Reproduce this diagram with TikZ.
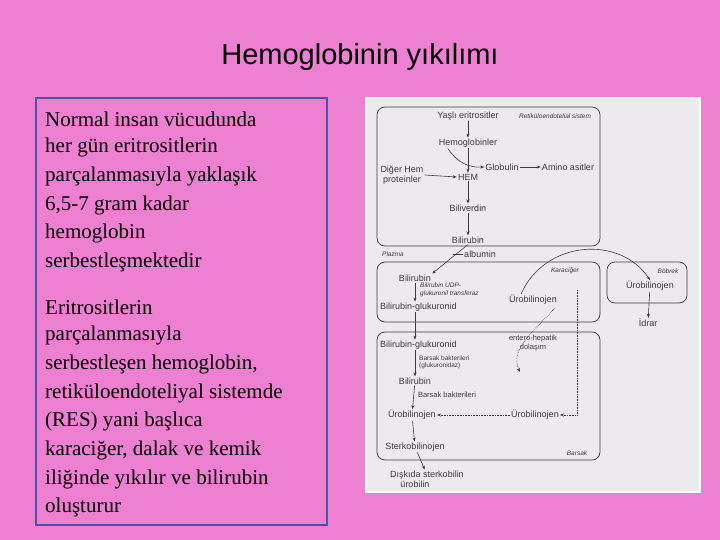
\documentclass[tikz,border=0pt]{standalone}
\usepackage{fontspec}
\setmainfont{Liberation Serif}
\newfontfamily\hsans{Liberation Sans}
\usetikzlibrary{arrows.meta}
\definecolor{bgpink}{RGB}{238,128,210}
\definecolor{boxblue}{RGB}{80,80,170}
\definecolor{panel}{RGB}{236,234,238}
\definecolor{ink}{RGB}{60,60,60}
\tikzset{
  lt/.style={anchor=west,inner sep=0pt,font=\fontsize{21}{24}\selectfont},
  dt/.style={inner sep=1pt,text=ink,font=\hsans\fontsize{9}{10}\selectfont},
  di/.style={dt,font=\hsans\itshape\fontsize{6.5}{7.5}\selectfont},
  frame/.style={draw=ink,rounded corners=8pt,line width=0.7pt},
  ar/.style={draw=ink,line width=0.6pt,-{Stealth[length=4pt]}},
  dar/.style={ar,densely dotted},
}
\begin{document}
\begin{tikzpicture}[x=1pt,y=-1pt]
\fill[bgpink] (0,0) rectangle (720,540);
\useasboundingbox (0,0) rectangle (720,540);
\node[font=\hsans\fontsize{29}{32}\selectfont] (title) at (360,57) {Hemoglobinin yıkılımı};
\draw[boxblue,line width=1.2pt] (36,98) rectangle (327,525);
\foreach \t [count=\i from 0] in {Normal insan vücudunda,her gün eritrositlerin,parçalanmasıyla yaklaşık,{6,5-7 gram kadar},hemoglobin,serbestleşmektedir}
  \node[lt] (p1l\i) at (45,119+28.7*\i) {\t};
\foreach \t [count=\i from 0] in {Eritrositlerin,parçalanmasıyla,{serbestleşen hemoglobin,},retiküloendoteliyal sistemde,(RES) yani başlıca,{karaciğer, dalak ve kemik},iliğinde yıkılır ve bilirubin,oluşturur}
  \node[lt] (p2l\i) at (45,307+28.7*\i) {\t};
% right panel
\fill[panel] (366,98) rectangle (700,492);
\draw[white,line width=1.5pt] (366,98) rectangle (700,492);
\draw[frame] (377,107) rectangle (600,246);
\draw[frame] (377,262) rectangle (600,322);
\draw[frame] (607,262) rectangle (687,303);
\draw[frame] (377,332) rectangle (600,460);
\node[dt] (yas) at (468,116) {Yaşlı eritrositler};
\node[di] (res) at (555,116) {Retiküloendotelial sistem};
\node[dt] (hgb) at (468,143) {Hemoglobinler};
\node[dt] (glo) at (502,167) {Globulin};
\node[dt] (ami) at (568,167) {Amino asitler};
\node[dt,align=center] (dig) at (402,175) {Diğer Hem\\proteinler};
\node[dt] (hem) at (468,177) {HEM};
\node[dt] (bv) at (468,208) {Biliverdin};
\node[dt] (br1) at (468,240) {Bilirubin};
\node[di] (pla) at (393,254) {Plazma};
\node[dt] (alb) at (480,254) {albumin};
\node[di] (kar) at (565,271) {Karaciğer};
\node[di] (bob) at (668,271) {Böbrek};
\node[dt] (ur1) at (650,286) {Ürobilinojen};
\node[dt] (idr) at (648,323) {İdrar};
\node[dt] (br2) at (415,278) {Bilirubin};
\node[di,align=left,anchor=west] (udp) at (419,290) {Bilirubin UDP-\\glukuronil transferaz};
\node[dt,anchor=west] (bg1) at (379,307) {Bilirubin-glukuronid};
\node[dt] (ur2) at (533,300) {Ürobilinojen};
\node[dt,anchor=west] (bg2) at (379,345) {Bilirubin-glukuronid};
\node[di,align=left,anchor=west,font=\hsans\fontsize{6.5}{7}\selectfont] (bb1) at (418,362) {Barsak bakterileri\\(glukuronidaz)};
\node[dt,align=center,font=\hsans\fontsize{7.5}{8.5}\selectfont] (ent) at (533,343) {entero-hepatik\\dolaşım};
\node[dt] (br3) at (415,381) {Bilirubin};
\node[dt,font=\hsans\fontsize{7.5}{8.5}\selectfont] (bb2) at (447,395) {Barsak bakterileri};
\node[dt] (ur3) at (412,415) {Ürobilinojen};
\node[dt] (ur4) at (535,415) {Ürobilinojen};
\node[dt] (stk) at (415,447) {Sterkobilinojen};
\node[di] (bag) at (577,453) {Barsak};
\node[dt] (dis) at (427,475) {Dışkıda sterkobilin};
\node[dt] (uro) at (415,484) {ürobilin};
\coordinate (ent2) at (520,372);
% arrows
\draw[ar] (yas) -- (hgb);
\draw[ar] (hgb) -- (hem);
\draw[ar] (hgb.south west) ++(10,0) to[bend right=30] (glo.west);
\draw[ar] (glo) -- (ami);
\draw[ar] (dig.east) -- (hem.west);
\draw[ar] (hem) -- (bv);
\draw[ar] (bv) -- (br1);
\draw[ar] (br1.south) -- (br2.north east);
\draw[draw=ink,line width=0.6pt] (alb.west) -- ++(-10,0);
\draw[ar] (br2) -- (br2 |- bg1.north);
\draw[ar] (br2 |- bg1.south) -- (br2 |- bg2.north);
\draw[ar] (br2 |- bg2.south) -- (br3);
\draw[ar] (br3) -- (ur3);
\draw[ar] (ur3) -- (stk);
\draw[ar] (stk) -- (dis);
\draw[dar] (ur4) -- (ur3);
\draw[dar] (577,290) -- (577,415) -- (ur4.east);
\draw[ar] (ur1) -- (idr);
\draw[ar] (ur2.north) ++(-12,0) .. controls (545,240) and (620,235) .. (ur1.north);
\draw[dar] (ur2.east) ++(-3,8) .. controls (530,335) and (510,350) .. (ent2);
\end{tikzpicture}
\end{document}
